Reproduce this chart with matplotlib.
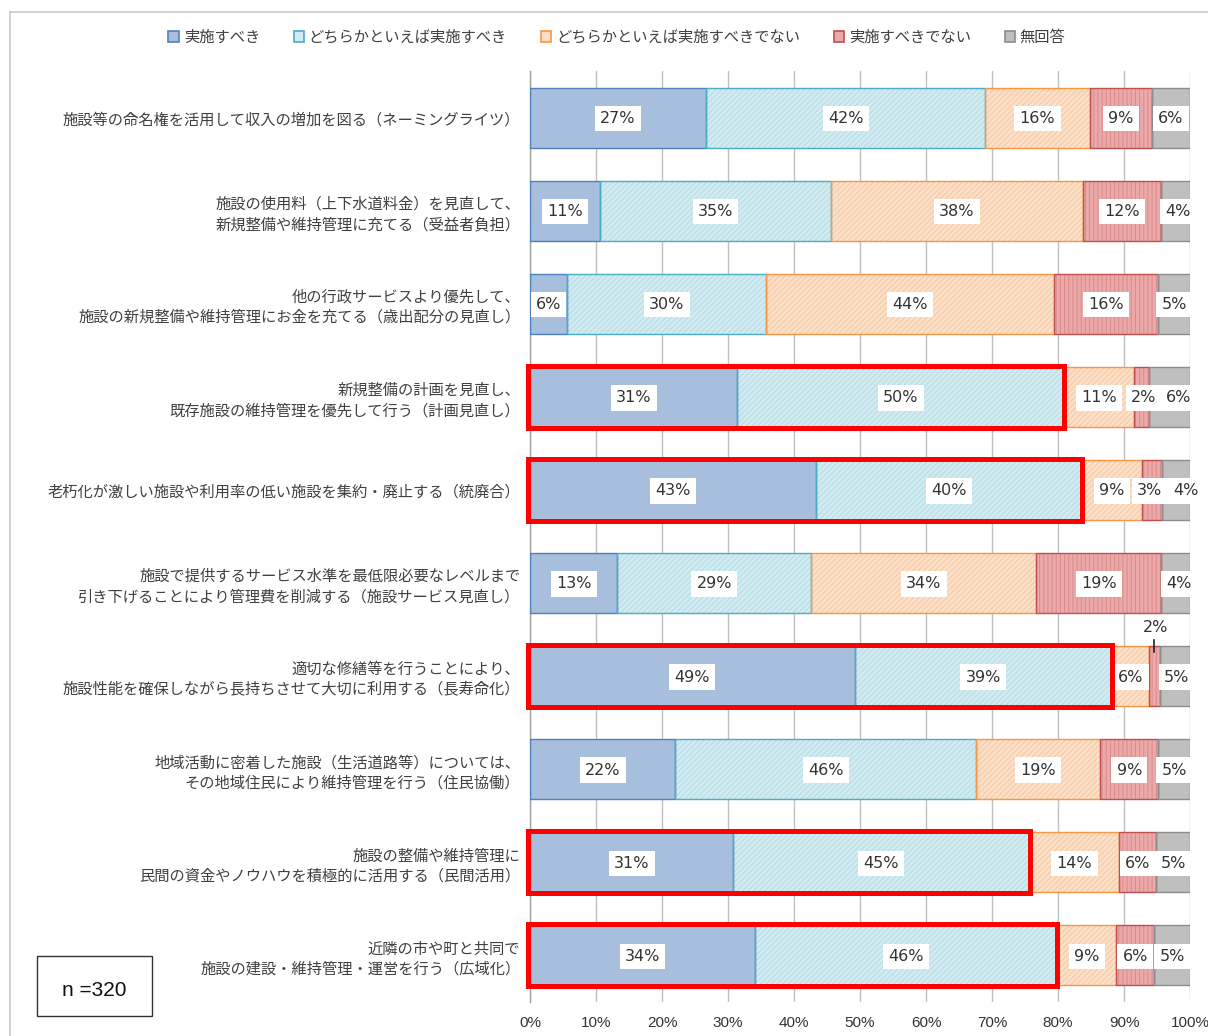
import matplotlib
matplotlib.use('Agg')
import matplotlib.pyplot as plt
from matplotlib.patches import Rectangle, Patch
from matplotlib.lines import Line2D
import numpy as np

plt.rcParams['font.family'] = ['Noto Sans CJK JP', 'DejaVu Sans']
plt.rcParams['hatch.linewidth'] = 0.7

categories = [
    '施設等の命名権を活用して収入の増加を図る（ネーミングライツ）',
    '施設の使用料（上下水道料金）を見直して、\n新規整備や維持管理に充てる（受益者負担）',
    '他の行政サービスより優先して、\n施設の新規整備や維持管理にお金を充てる（歳出配分の見直し）',
    '新規整備の計画を見直し、\n既存施設の維持管理を優先して行う（計画見直し）',
    '老朽化が激しい施設や利用率の低い施設を集約・廃止する（統廃合）',
    '施設で提供するサービス水準を最低限必要なレベルまで\n引き下げることにより管理費を削減する（施設サービス見直し）',
    '適切な修繕等を行うことにより、\n施設性能を確保しながら長持ちさせて大切に利用する（長寿命化）',
    '地域活動に密着した施設（生活道路等）については、\nその地域住民により維持管理を行う（住民協働）',
    '施設の整備や維持管理に\n民間の資金やノウハウを積極的に活用する（民間活用）',
    '近隣の市や町と共同で\n施設の建設・維持管理・運営を行う（広域化）',
]
series_names = ['実施すべき', 'どちらかといえば実施すべき', 'どちらかといえば実施すべきでない',
                '実施すべきでない', '無回答']
s1 = [26.7, 10.6, 5.6, 31.4, 43.4, 13.2, 49.2, 22.0, 30.8, 34.1]
s2 = [42.3, 35.0, 30.2, 49.5, 40.2, 29.4, 39.0, 45.6, 44.9, 45.8]
s3 = [15.8, 38.2, 43.6, 10.6, 9.2, 34.1, 5.6, 18.8, 13.6, 8.9]
s4 = [9.4, 11.8, 15.8, 2.3, 3.0, 18.9, 1.6, 8.8, 5.6, 5.8]
s5 = [5.8, 4.4, 4.8, 6.2, 4.2, 4.4, 4.6, 4.8, 5.1, 5.4]
highlight_rows = [3, 4, 6, 8, 9]
xtick_values = [0, 10, 20, 30, 40, 50, 60, 70, 80, 90, 100]
n_label = 'n =320'

series = [s1, s2, s3, s4, s5]
faces = ['#a7bfdc', '#d2ebf1', '#fcdfc6', '#eca9a9', '#bfbfbf']
hatch_cols = ['#a7bfdc', '#b3dbe4', '#f3c9a4', '#d98a8a', '#bfbfbf']
hatches = [None, '//////', '//////', '||||', None]
edges = ['#4f81bd', '#4bacc6', '#f79646', '#c0504d', '#8c8c8c']

W, H = 1208, 1036
fig = plt.figure(figsize=(W / 100, H / 100), dpi=100)
ax = fig.add_axes([530 / W, 1 - 1002 / H, 660 / W, (1002 - 71) / H])

# small label nudges (row, series) -> dx in % units, to avoid overlapping boxes
nudges = {(3, 3): 0.3, (3, 4): 1.3, (4, 3): -0.4, (4, 4): 1.5, (6, 4): 0.3,
          (1, 4): 0.4, (5, 4): 0.5}

n = len(categories)
y = np.arange(n)
bh = 0.645
left = np.zeros(n)
txtcol = '#333333'
for k, vals in enumerate(series):
    vals = np.array(vals)
    ax.barh(y, vals, left=left, height=bh, color=faces[k], edgecolor=hatch_cols[k],
            hatch=hatches[k], linewidth=0, zorder=2)
    ax.barh(y, vals, left=left, height=bh, fill=False, edgecolor=edges[k],
            linewidth=1.0, zorder=3)
    for i in range(n):
        lab = f'{int(vals[i] + 0.5)}%'
        cx = left[i] + vals[i] / 2
        if k == 3 and i == 6:
            ax.text(cx + 0.2, y[i] - bh / 2 - 0.2, lab, ha='center', va='center', fontsize=11.5,
                    color=txtcol, family=['DejaVu Sans'], zorder=6)
            ax.plot([cx, cx], [y[i] - bh / 2 - 0.07, y[i] - bh / 2 + 0.06], color='#222222',
                    lw=1.2, zorder=6, clip_on=False)
            continue
        cx += nudges.get((i, k), 0)
        ax.text(cx, y[i] + 0.01, lab, ha='center', va='center', fontsize=11.5, color=txtcol,
                family=['DejaVu Sans'], zorder=5,
                bbox=dict(boxstyle='square,pad=0.33', facecolor='white', edgecolor='none'))
    left = left + vals

s12 = np.array(s1) + np.array(s2)
for i in highlight_rows:
    r = Rectangle((-0.3, y[i] - bh / 2 - 0.01), s12[i] + 0.3, bh + 0.02, fill=False,
                  edgecolor='#ff0000', linewidth=3.6, zorder=7, clip_on=False)
    ax.add_patch(r)

ax.set_xlim(0, 100)
ax.set_ylim(n - 0.5, -0.5)
ax.set_xticks(xtick_values)
ax.set_xticklabels([f'{v}%' for v in xtick_values], fontsize=11, color=txtcol,
                   family=['Liberation Sans Narrow', 'Liberation Sans', 'DejaVu Sans'])
ax.set_yticks(y)
ax.set_yticklabels(categories, fontsize=11, color='#404040', linespacing=1.25)
ax.tick_params(axis='both', length=0)
ax.tick_params(axis='y', pad=7)
ax.tick_params(axis='x', pad=10)
ax.grid(axis='x', color='#c0c0c0', linewidth=1.0, zorder=0)
ax.set_axisbelow(True)
for s in ['top', 'right', 'bottom']:
    ax.spines[s].set_visible(False)
ax.spines['left'].set_color('#a0a0a0')
ax.spines['left'].set_linewidth(1.0)

handles = [Patch(facecolor=faces[k], edgecolor=edges[k], linewidth=1.2) for k in range(5)]
fig.legend(handles, series_names, loc='center', bbox_to_anchor=(617 / W, 1 - 37 / H),
           ncol=5, frameon=False, handlelength=0.7, handleheight=0.7, handletextpad=0.3,
           columnspacing=2.2, fontsize=11, labelcolor='#404040')

# outer frame
fig.add_artist(Line2D([10 / W, 10 / W], [0, 1 - 12 / H], color='#c8c8c8', lw=1.2))
fig.add_artist(Line2D([10 / W, 1], [1 - 12 / H, 1 - 12 / H], color='#c8c8c8', lw=1.2))

# n box
fig.add_artist(Rectangle((37 / W, 1 - 1016 / H), 115 / W, 60 / H, fill=False,
                         edgecolor='#333333', linewidth=1.0, transform=fig.transFigure))
fig.text(94 / W, 1 - 990 / H, n_label, ha='center', va='center', fontsize=15, color='#111111',
         family=['Liberation Sans Narrow', 'Liberation Sans', 'DejaVu Sans'])

fig.savefig('out.png', dpi=100)
